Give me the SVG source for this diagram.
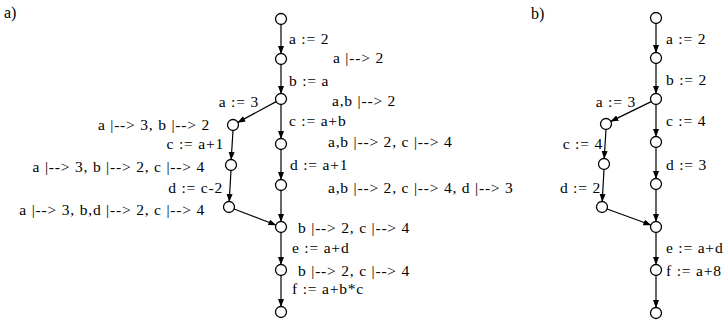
<svg xmlns="http://www.w3.org/2000/svg" width="724" height="323" viewBox="0 0 724 323">
<style>
text{font-family:"Liberation Serif","Times New Roman",serif;font-size:15.5px;letter-spacing:0.8px;fill:#000}
.lab{font-size:16px;letter-spacing:0}
circle{fill:#fff;stroke:#000;stroke-width:1.3}
line{stroke:#000;stroke-width:1.2}
</style>
<defs>
<marker id="ah" markerUnits="userSpaceOnUse" markerWidth="9" markerHeight="7" refX="7.5" refY="3" orient="auto">
<path d="M0,0 L8,3 L0,6 z" fill="#000"/>
</marker>
</defs>
<rect width="724" height="323" fill="#fff"/>
<text class="lab" x="4" y="18">a)</text>
<text class="lab" x="531" y="19">b)</text>
<g id="connectors">
<line x1="281" y1="24.5" x2="281" y2="53.5" marker-end="url(#ah)"/>
<line x1="281" y1="64.5" x2="281" y2="93.5" marker-end="url(#ah)"/>
<line x1="276.2" y1="101.6" x2="237.8" y2="122.4" marker-end="url(#ah)"/>
<line x1="281" y1="104.5" x2="281" y2="138.5" marker-end="url(#ah)"/>
<line x1="281" y1="149.5" x2="281" y2="179.5" marker-end="url(#ah)"/>
<line x1="281" y1="190.5" x2="281" y2="221.5" marker-end="url(#ah)"/>
<line x1="233" y1="130.5" x2="231.2" y2="159.5" marker-end="url(#ah)"/>
<line x1="231" y1="170.5" x2="229.2" y2="201.5" marker-end="url(#ah)"/>
<line x1="234.1" y1="209" x2="275.9" y2="225" marker-end="url(#ah)"/>
<line x1="281" y1="232.5" x2="281" y2="264.5" marker-end="url(#ah)"/>
<line x1="281" y1="275.5" x2="281" y2="306.5" marker-end="url(#ah)"/>
<line x1="656" y1="23.5" x2="656" y2="52.5" marker-end="url(#ah)"/>
<line x1="656" y1="63.5" x2="656" y2="93.5" marker-end="url(#ah)"/>
<line x1="651.2" y1="101.6" x2="610.8" y2="121.4" marker-end="url(#ah)"/>
<line x1="656" y1="104.5" x2="656" y2="136.5" marker-end="url(#ah)"/>
<line x1="656" y1="147.5" x2="656" y2="178.5" marker-end="url(#ah)"/>
<line x1="656" y1="189.5" x2="656" y2="221.5" marker-end="url(#ah)"/>
<line x1="606" y1="129.5" x2="604.2" y2="158.5" marker-end="url(#ah)"/>
<line x1="604" y1="169.5" x2="602.2" y2="201.5" marker-end="url(#ah)"/>
<line x1="607.1" y1="209" x2="650.9" y2="225" marker-end="url(#ah)"/>
<line x1="656" y1="232.5" x2="656" y2="264.5" marker-end="url(#ah)"/>
<line x1="656" y1="275.5" x2="656" y2="307.5" marker-end="url(#ah)"/>
</g>
<g id="a-n0"><circle cx="281" cy="19" r="5.5"/></g>
<g id="a-n1"><circle cx="281" cy="59" r="5.5"/></g>
<g id="a-n2"><circle cx="281" cy="99" r="5.5"/></g>
<g id="a-n3"><circle cx="281" cy="144" r="5.5"/></g>
<g id="a-n4"><circle cx="281" cy="185" r="5.5"/></g>
<g id="a-n5"><circle cx="281" cy="227" r="5.5"/></g>
<g id="a-n6"><circle cx="281" cy="270" r="5.5"/></g>
<g id="a-n7"><circle cx="281" cy="312" r="5.5"/></g>
<g id="a-l1"><circle cx="233" cy="125" r="5.5"/></g>
<g id="a-l2"><circle cx="231" cy="165" r="5.5"/></g>
<g id="a-l3"><circle cx="229" cy="207" r="5.5"/></g>
<g id="b-n0"><circle cx="656" cy="18" r="5.5"/></g>
<g id="b-n1"><circle cx="656" cy="58" r="5.5"/></g>
<g id="b-n2"><circle cx="656" cy="99" r="5.5"/></g>
<g id="b-n3"><circle cx="656" cy="142" r="5.5"/></g>
<g id="b-n4"><circle cx="656" cy="184" r="5.5"/></g>
<g id="b-n5"><circle cx="656" cy="227" r="5.5"/></g>
<g id="b-n6"><circle cx="656" cy="270" r="5.5"/></g>
<g id="b-n7"><circle cx="656" cy="313" r="5.5"/></g>
<g id="b-l1"><circle cx="606" cy="124" r="5.5"/></g>
<g id="b-l2"><circle cx="604" cy="164" r="5.5"/></g>
<g id="b-l3"><circle cx="602" cy="207" r="5.5"/></g>
<g id="labels-a">
<text x="289" y="44">a := 2</text>
<text x="333" y="63">a |--&gt; 2</text>
<text x="289" y="86">b := a</text>
<text x="332" y="106">a,b |--&gt; 2</text>
<text x="289" y="126">c := a+b</text>
<text x="328" y="147">a,b |--&gt; 2, c |--&gt; 4</text>
<text x="259" y="107" text-anchor="end">a := 3</text>
<text x="210" y="130" text-anchor="end">a |--&gt; 3, b |--&gt; 2</text>
<text x="224" y="149" text-anchor="end">c := a+1</text>
<text x="205" y="172" text-anchor="end">a |--&gt; 3, b |--&gt; 2, c |--&gt; 4</text>
<text x="290" y="170">d := a+1</text>
<text x="223" y="193" text-anchor="end">d := c-2</text>
<text x="328" y="193">a,b |--&gt; 2, c |--&gt; 4, d |--&gt; 3</text>
<text x="205" y="215" text-anchor="end">a |--&gt; 3, b,d |--&gt; 2, c |--&gt; 4</text>
<text x="298" y="233">b |--&gt; 2, c |--&gt; 4</text>
<text x="292" y="253">e := a+d</text>
<text x="298" y="276">b |--&gt; 2, c |--&gt; 4</text>
<text x="292" y="294">f := a+b*c</text>
</g>
<g id="labels-b">
<text x="666" y="44">a := 2</text>
<text x="666" y="85">b := 2</text>
<text x="636" y="107" text-anchor="end">a := 3</text>
<text x="666" y="126">c := 4</text>
<text x="603" y="149" text-anchor="end">c := 4</text>
<text x="666" y="170">d := 3</text>
<text x="601" y="193" text-anchor="end">d := 2</text>
<text x="666" y="253">e := a+d</text>
<text x="666" y="276">f := a+8</text>
</g>
</svg>
